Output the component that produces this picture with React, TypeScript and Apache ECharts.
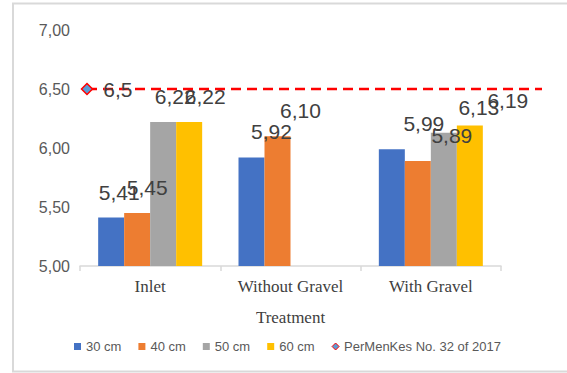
import React, { useEffect, useRef } from "react";
import * as echarts from "echarts";

// ---- data ----
const categories = ["Inlet", "Without Gravel", "With Gravel"];
const seriesNames = ["30 cm", "40 cm", "50 cm", "60 cm"];
const cm30 = [5.41, 5.92, 5.99];
const cm40 = [5.45, 6.1, 5.89];
const cm50: (number | null)[] = [6.22, null, 6.13];
const cm60: (number | null)[] = [6.22, null, 6.19];
const standardName = "PerMenKes No. 32 of 2017";
const standardValues = [6.5, 6.5];
const yMin = 5;
const yMax = 7;
const yInterval = 0.5;

// ---- style ----
const colors = ["#4472c4", "#ed7d31", "#a5a5a5", "#ffc000"];
const labelNudge = [
  [8, 20, 32],
  [10, 23, 34],
  [12, 0, 35],
  [16, 0, 38],
];

const fmt2 = (v: number) => v.toFixed(2).replace(".", ",");

export default function App() {
  const ref = useRef<HTMLDivElement>(null);
  useEffect(() => {
    const chart = echarts.init(ref.current!, null, { renderer: "svg" });
    const allSeries = [cm30, cm40, cm50, cm60];
    const barSeries = allSeries.map((vals, si) => ({
      name: seriesNames[si],
      type: "bar",
      xAxisIndex: 0,
      yAxisIndex: 0,
      barWidth: 26,
      barGap: "0%",
      itemStyle: { color: colors[si] },
      label: {
        show: true,
        position: "top",
        distance: 15,
        color: "#404040",
        fontSize: 21,
        fontFamily: "Liberation Sans",
        formatter: (p: any) => fmt2(Number(p.value)),
      },
      data: vals.map((v, ci) =>
        v == null ? null : { value: v, label: { offset: [labelNudge[si][ci], 0] } }
      ),
    }));

    const lineSeries = {
      name: standardName,
      type: "line",
      xAxisIndex: 1,
      yAxisIndex: 1,
      z: 5,
      lineStyle: { color: "#ff0000", width: 2.5, type: [10, 6] },
      itemStyle: { color: "#5b9bd5", borderColor: "#ff0000", borderWidth: 1.5 },
      data: standardValues.map((v, i) =>
        i === 0
          ? {
              value: v,
              symbol: "diamond",
              symbolSize: 11,
              label: {
                show: true,
                position: "right",
                distance: 10,
                color: "#404040",
                fontSize: 21,
                fontFamily: "Liberation Sans",
                formatter: (p: any) => String(p.value).replace(".", ","),
              },
            }
          : { value: v, symbol: "none" }
      ),
    };

    chart.setOption({
      animation: false,
      backgroundColor: "#ffffff",
      graphic: [
        {
          type: "rect",
          silent: true,
          shape: { x: 13, y: 3.5, width: 620, height: 368 },
          style: { fill: "none", stroke: "#d9d9d9", lineWidth: 2 },
        },
      ],
      legend: {
        left: 69,
        top: 335,
        itemWidth: 7,
        itemHeight: 7,
        itemGap: 17,
        textStyle: { color: "#595959", fontSize: 13, fontFamily: "Liberation Sans" },
        data: [
          ...seriesNames.map((n) => ({ name: n, icon: "rect" })),
          {
            name: standardName,
            icon: "diamond",
            itemStyle: { color: "#5b9bd5", borderColor: "#ff0000", borderWidth: 1 },
          },
        ],
      },
      grid: [
        { left: 80, right: 66, top: 30, bottom: 107, containLabel: false },
        { left: 87, right: 25, top: 30, bottom: 107, containLabel: false },
      ],
      xAxis: [
        {
          type: "category",
          gridIndex: 0,
          data: categories,
          axisLine: { lineStyle: { color: "#d9d9d9", width: 1.5 } },
          axisTick: { show: true, length: 5, lineStyle: { color: "#d9d9d9", width: 1.5 } },
          axisLabel: {
            color: "#404040",
            fontSize: 17,
            fontFamily: "Liberation Serif",
            margin: 12,
          },
          name: "Treatment",
          nameLocation: "middle",
          nameGap: 43,
          nameTextStyle: { color: "#404040", fontSize: 17, fontFamily: "Liberation Serif" },
        },
        {
          type: "category",
          gridIndex: 1,
          data: standardValues.map((_, i) => String(i)),
          boundaryGap: false,
          show: false,
        },
      ],
      yAxis: [
        {
          type: "value",
          gridIndex: 0,
          min: yMin,
          max: yMax,
          interval: yInterval,
          axisLine: { show: false },
          axisTick: { show: false },
          splitLine: { show: false },
          axisLabel: {
            color: "#595959",
            fontSize: 16,
            fontFamily: "Liberation Sans",
            margin: 10,
            formatter: (v: number) => fmt2(v),
          },
        },
        {
          type: "value",
          gridIndex: 1,
          min: yMin,
          max: yMax,
          show: false,
          splitLine: { show: false },
        },
      ],
      series: [...barSeries, lineSeries],
    });
    return () => chart.dispose();
  }, []);
  return (
    <div
      ref={ref}
      style={{ position: "absolute", left: 0, top: 0, width: 567, height: 373 }}
    />
  );
}
